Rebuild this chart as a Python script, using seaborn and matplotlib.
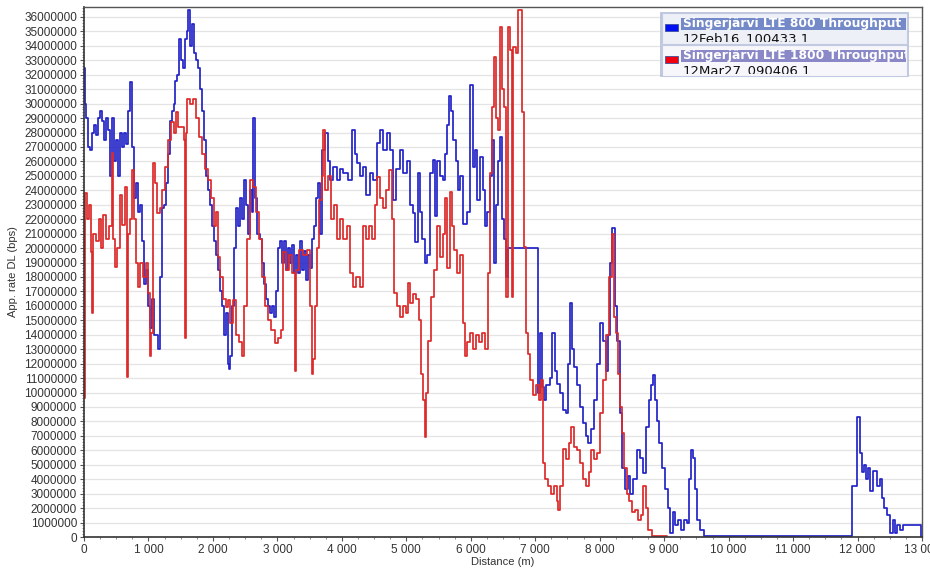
import numpy as np
import pandas as pd
import matplotlib
matplotlib.use("Agg")
import matplotlib.pyplot as plt
from matplotlib.patches import Rectangle
from matplotlib.ticker import MultipleLocator, FuncFormatter
from matplotlib.transforms import Bbox, TransformedBbox
import seaborn as sns

# Throughput samples along the drive route: (distance in m, rate in Mbit/s)
lte800_samples = [
    (0, 32.5), (16, 30.0), (31, 29.0), (62, 27.0), (93, 26.8), (124, 28.0), (155, 28.5),
    (186, 27.8), (217, 29.0), (248, 29.5), (280, 28.8), (311, 27.5), (342, 29.0), (373, 28.2),
    (404, 25.0), (435, 29.0), (466, 26.0), (497, 27.5), (528, 25.0), (559, 28.0), (590, 27.0),
    (621, 28.0), (652, 27.2), (683, 29.5), (714, 31.5), (745, 27.0), (776, 23.5), (807, 24.5),
    (838, 22.5), (869, 23.0), (900, 20.5), (931, 17.5), (962, 18.5), (993, 16.0), (1024, 14.5),
    (1055, 16.5), (1086, 14.0), (1149, 13.0), (1180, 18.0), (1211, 22.8), (1242, 23.0),
    (1273, 24.5), (1304, 26.5), (1335, 28.8), (1366, 29.5), (1397, 30.0), (1412, 31.6),
    (1443, 32.0), (1474, 34.5), (1505, 33.0), (1536, 32.5), (1568, 34.5), (1599, 35.0),
    (1614, 36.5), (1645, 34.0), (1676, 35.5), (1707, 33.5), (1738, 33.0), (1769, 32.5),
    (1800, 31.0), (1831, 29.5), (1862, 27.5), (1893, 25.0), (1925, 24.0), (1956, 23.0),
    (1987, 21.5), (2018, 20.5), (2049, 19.5), (2080, 18.5), (2111, 17.0), (2142, 16.0),
    (2173, 14.0), (2204, 15.5), (2235, 12.0), (2250, 11.6), (2266, 12.5), (2297, 16.0),
    (2328, 20.0), (2359, 22.8), (2390, 21.5), (2421, 23.5), (2452, 22.0), (2483, 24.7),
    (2514, 23.0), (2545, 21.0), (2576, 24.0), (2607, 22.5), (2623, 29.0), (2654, 23.5),
    (2685, 21.0), (2732, 20.6), (2763, 19.0), (2794, 17.5), (2825, 16.5), (2856, 16.0),
    (2887, 15.5), (2918, 16.0), (2949, 15.2), (2980, 17.0), (3011, 20.0), (3042, 20.5),
    (3073, 19.0), (3104, 20.5), (3135, 18.5), (3166, 20.0), (3197, 19.0), (3228, 20.2),
    (3259, 18.3), (3290, 19.5), (3321, 18.3), (3352, 20.5), (3383, 18.5), (3414, 19.8),
    (3445, 17.8), (3476, 19.5), (3507, 18.6), (3538, 20.6), (3569, 21.5), (3600, 23.5),
    (3631, 24.5), (3663, 21.0), (3694, 26.8), (3740, 28.0), (3787, 26.0), (3818, 24.7),
    (3864, 25.6), (3927, 24.7), (3973, 25.5), (4020, 25.2), (4097, 24.7), (4159, 28.2),
    (4206, 26.5), (4237, 25.9), (4284, 25.0), (4330, 25.6), (4377, 23.7), (4439, 25.2),
    (4485, 24.7), (4547, 27.3), (4594, 28.2), (4640, 26.8), (4703, 28.0), (4749, 26.8),
    (4796, 23.3), (4842, 25.5), (4904, 26.8), (4951, 25.2), (5013, 26.0), (5060, 23.0),
    (5106, 22.4), (5137, 20.4), (5184, 25.2), (5215, 22.5), (5246, 20.6), (5292, 19.0),
    (5323, 19.5), (5370, 25.2), (5416, 26.1), (5448, 22.2), (5479, 26.0), (5525, 25.0),
    (5572, 24.7), (5603, 26.5), (5634, 28.5), (5665, 30.5), (5696, 29.5), (5727, 27.5),
    (5773, 26.0), (5804, 24.0), (5835, 25.0), (5882, 21.7), (5944, 22.5), (5991, 31.3),
    (6037, 25.6), (6068, 26.8), (6099, 23.3), (6146, 26.3), (6192, 24.0), (6224, 21.5),
    (6255, 22.5), (6301, 25.0), (6332, 27.5), (6363, 19.0), (6394, 23.0), (6425, 26.0),
    (6456, 27.7), (6487, 22.0), (6518, 20.6), (6549, 18.0), (6580, 20.0), (7046, 10.0),
    (7077, 14.1), (7108, 10.4), (7139, 9.5), (7170, 10.5), (7232, 11.0), (7263, 14.1),
    (7310, 11.5), (7341, 10.6), (7388, 10.0), (7434, 8.8), (7481, 8.6), (7512, 12.0),
    (7543, 16.2), (7574, 13.0), (7605, 11.8), (7652, 10.5), (7698, 9.0), (7744, 7.9),
    (7791, 7.0), (7822, 6.5), (7869, 7.5), (7915, 9.5), (7962, 12.0), (8008, 14.8),
    (8055, 13.6), (8102, 11.5), (8133, 14.0), (8164, 19.0), (8195, 21.4), (8241, 16.0),
    (8272, 13.6), (8319, 8.6), (8350, 4.8), (8396, 3.3), (8443, 4.2), (8474, 3.0),
    (8520, 4.0), (8583, 6.0), (8629, 5.5), (8676, 4.4), (8722, 7.6), (8769, 9.5),
    (8800, 10.5), (8831, 11.2), (8862, 9.5), (8893, 8.0), (8924, 6.5), (8971, 4.8),
    (9017, 3.3), (9064, 2.0), (9095, 0.3), (9141, 1.7), (9172, 0.8), (9219, 1.2),
    (9265, 0.5), (9312, 1.2), (9358, 1.0), (9390, 4.0), (9421, 6.0), (9452, 5.5),
    (9483, 3.3), (9514, 1.2), (9560, 0.5), (9622, 0.1), (11920, 3.5), (11997, 8.3),
    (12044, 5.8), (12075, 4.5), (12106, 5.0), (12137, 4.0), (12168, 4.8), (12199, 3.2),
    (12246, 4.6), (12308, 3.5), (12354, 4.0), (12385, 2.7), (12416, 2.0), (12463, 1.5),
    (12509, 0.3), (12556, 1.2), (12587, 0.3), (12618, 0.8), (12664, 0.5), (12711, 0.8),
    (12773, 0.8), (12990, 0.0),
]

lte1800_samples = [
    (0, 9.6), (16, 23.8), (47, 22.0), (78, 23.0), (109, 19.7), (124, 15.5), (140, 21.0),
    (186, 20.5), (233, 22.0), (264, 20.0), (295, 22.3), (342, 20.6), (388, 21.5), (435, 26.6),
    (450, 20.6), (481, 18.7), (512, 20.0), (559, 23.7), (590, 21.6), (636, 24.2), (667, 11.1),
    (683, 21.0), (714, 22.0), (745, 25.4), (776, 22.0), (807, 19.0), (838, 17.3), (869, 19.0),
    (916, 18.0), (962, 19.0), (993, 16.9), (1024, 12.5), (1040, 14.1), (1071, 25.9),
    (1102, 24.5), (1133, 22.4), (1180, 22.8), (1211, 24.0), (1257, 25.6), (1304, 27.5),
    (1350, 28.7), (1397, 28.0), (1428, 29.4), (1459, 28.4), (1505, 28.4), (1552, 27.5),
    (1568, 13.8), (1583, 28.0), (1599, 30.3), (1645, 30.0), (1692, 30.3), (1738, 29.0),
    (1785, 27.7), (1831, 26.5), (1878, 25.5), (1925, 24.7), (1971, 23.5), (2018, 21.5),
    (2049, 22.5), (2080, 19.4), (2111, 18.0), (2157, 16.5), (2204, 15.9), (2235, 16.4),
    (2266, 14.8), (2312, 16.4), (2359, 14.0), (2406, 13.5), (2452, 12.5), (2483, 16.0),
    (2530, 20.6), (2576, 24.7), (2623, 24.2), (2669, 22.5), (2716, 20.6), (2763, 18.0),
    (2809, 16.0), (2856, 15.0), (2902, 14.3), (2964, 13.4), (3011, 13.8), (3057, 14.3),
    (3088, 19.7), (3135, 18.5), (3182, 19.5), (3228, 18.3), (3275, 11.5), (3290, 18.5),
    (3337, 19.9), (3399, 19.5), (3461, 19.9), (3508, 16.0), (3539, 11.3), (3554, 12.3),
    (3585, 16.0), (3616, 20.0), (3647, 23.3), (3694, 25.0), (3709, 28.2), (3740, 24.0),
    (3787, 25.0), (3833, 22.0), (3880, 23.0), (3927, 20.6), (3973, 22.0), (4020, 20.6),
    (4082, 21.5), (4128, 18.3), (4175, 17.3), (4221, 18.0), (4284, 17.3), (4330, 21.5),
    (4377, 20.6), (4423, 21.5), (4470, 20.6), (4516, 23.0), (4547, 24.9), (4594, 23.5),
    (4640, 22.8), (4687, 24.0), (4734, 25.4), (4780, 22.0), (4811, 16.9), (4858, 16.0),
    (4904, 15.2), (4951, 16.0), (4997, 15.5), (5029, 17.6), (5060, 16.2), (5106, 16.8),
    (5153, 16.5), (5199, 15.0), (5230, 11.3), (5261, 9.5), (5292, 6.9), (5308, 10.0),
    (5339, 13.6), (5385, 16.6), (5432, 18.5), (5479, 21.5), (5525, 19.4), (5572, 21.0),
    (5603, 23.5), (5634, 18.6), (5680, 23.9), (5711, 21.5), (5742, 19.9), (5789, 18.3),
    (5835, 19.5), (5882, 14.8), (5913, 12.5), (5944, 13.5), (5991, 14.1), (6037, 13.0),
    (6084, 14.0), (6130, 13.5), (6177, 14.1), (6224, 13.0), (6270, 18.3), (6301, 25.2),
    (6332, 29.8), (6363, 33.2), (6394, 29.0), (6425, 28.2), (6456, 35.3), (6487, 31.0),
    (6518, 29.8), (6549, 16.6), (6580, 35.3), (6612, 33.7), (6643, 16.6), (6658, 33.9),
    (6705, 33.5), (6736, 36.5), (6767, 36.5), (6798, 29.4), (6829, 20.1), (6860, 14.1),
    (6891, 12.7), (6922, 10.9), (6969, 9.8), (7015, 10.5), (7062, 9.5), (7093, 10.9),
    (7124, 5.1), (7155, 4.0), (7201, 3.5), (7248, 3.0), (7294, 3.5), (7341, 2.5),
    (7356, 1.9), (7388, 3.5), (7434, 6.1), (7481, 5.4), (7527, 6.5), (7558, 7.6),
    (7605, 6.2), (7652, 6.0), (7698, 5.1), (7744, 4.0), (7791, 3.5), (7838, 4.5),
    (7869, 6.0), (7915, 5.4), (7962, 5.8), (8008, 8.6), (8055, 10.9), (8102, 14.0),
    (8148, 18.0), (8195, 21.0), (8226, 15.2), (8257, 14.1), (8288, 11.3), (8319, 9.0),
    (8350, 7.2), (8381, 4.8), (8427, 3.0), (8458, 2.5), (8505, 1.7), (8552, 1.9),
    (8598, 1.2), (8645, 1.5), (8676, 3.5), (8722, 2.0), (8753, 0.5), (8815, 0.1),
    (9048, 0.1),
]

series_names = ["Singerjärvi LTE 800 Throughput", "Singerjärvi LTE 1800 Throughput"]
series_files = ["12Feb16_100433.1", "12Mar27_090406.1"]
series_colors = ["#2323C8", "#DC2A2A"]
swatch_colors = ["#0010F0", "#F00010"]


def to_frame(samples, name):
    dist, mbps = zip(*samples)
    return pd.DataFrame({"distance": dist, "rate": np.array(mbps) * 1e6, "series": name})


df = pd.concat([to_frame(lte800_samples, series_names[0]),
                to_frame(lte1800_samples, series_names[1])], ignore_index=True)

sns.set_style("white")
plt.rcParams["font.family"] = ["Liberation Sans", "DejaVu Sans"]

fig = plt.figure(figsize=(9.3, 5.68), dpi=100)
ax = fig.add_axes([84 / 930, 31 / 568, 838 / 930, 530 / 568])

sns.lineplot(data=df, x="distance", y="rate", hue="series",
             palette=dict(zip(series_names, series_colors)),
             estimator=None, sort=False, drawstyle="steps-post",
             linewidth=1.25, legend=False, ax=ax)

ax.set_xlim(0, 13000)
ax.set_ylim(0, 36.69e6)

ax.yaxis.set_major_locator(MultipleLocator(1e6))
ax.yaxis.set_minor_locator(MultipleLocator(2e5))
ax.xaxis.set_major_locator(MultipleLocator(1000))
ax.xaxis.set_minor_locator(MultipleLocator(250))
ax.yaxis.set_major_formatter(FuncFormatter(lambda v, p: f"{int(round(v))}"))
ax.xaxis.set_major_formatter(FuncFormatter(lambda v, p: f"{int(round(v)):,}".replace(",", " ")))

ax.grid(axis="y", which="major", color="#E4E4E4", linewidth=0.9)
ax.grid(axis="x", visible=False)
ax.set_axisbelow(True)

ax.tick_params(axis="both", which="major", direction="out", length=3, width=0.8,
               color="#555555", labelsize=8.5, labelcolor="#333333", pad=2,
               left=True, bottom=True)
ax.tick_params(axis="both", which="minor", direction="out", length=1.5, width=0.6,
               color="#777777", left=True, bottom=True)

for side in ["left", "bottom"]:
    ax.spines[side].set_color("#333333")
    ax.spines[side].set_linewidth(1.2)
for side in ["top", "right"]:
    ax.spines[side].set_color("#555555")
    ax.spines[side].set_linewidth(1.0)

ax.set_xlabel("Distance (m)", fontsize=8, color="#333333", labelpad=1)
ax.set_ylabel("App. rate DL (bps)", fontsize=8, color="#333333", labelpad=4)


# Legend panel in the upper right corner (pixel coordinates from the top-left)
def px(x, y):
    return x / 930, 1 - y / 568


def px_clip(x0, y0, x1, y1):
    return TransformedBbox(Bbox.from_extents(x0 / 930, 1 - y1 / 568, x1 / 930, 1 - y0 / 568),
                           fig.transFigure)


lx0, lx1 = 661, 908
rows = [(13, 44), (45, 76)]
header_bg = ["#7489C8", "#8B88C8"]
row_bg = ["#EEF0F8", "#F6F6FB"]
fig.add_artist(Rectangle(px(lx0, 76), (lx1 - lx0) / 930, 63 / 568,
                         transform=fig.transFigure, facecolor="white",
                         edgecolor="#B4BED8", linewidth=1.2, zorder=5))
for i, (y0, y1) in enumerate(rows):
    fig.add_artist(Rectangle(px(lx0 + 1, y1), (lx1 - lx0 - 2) / 930, (y1 - y0) / 568,
                             transform=fig.transFigure, facecolor=row_bg[i],
                             edgecolor="#C2CAE2", linewidth=0.8, zorder=6))
    fig.add_artist(Rectangle(px(681, y0 + 17), (906 - 681) / 930, 12 / 568,
                             transform=fig.transFigure, facecolor=header_bg[i],
                             edgecolor="none", zorder=7))
    fig.add_artist(Rectangle(px(665, y0 + 18), 13 / 930, 7 / 568,
                             transform=fig.transFigure, facecolor=swatch_colors[i],
                             edgecolor="#4050A0", linewidth=0.6, zorder=8))
    head = fig.text(*px(683, y0 + 11), series_names[i], fontsize=8.8, fontweight="bold",
                    family=["DejaVu Sans"], color="white", va="center", ha="left", zorder=8)
    head.set_clip_box(px_clip(681, y0, 906, y1))
    head.set_clip_on(True)
    sub = fig.text(*px(683, y0 + 19.5), series_files[i], fontsize=9.5,
                   family=["DejaVu Sans"], color="#111111", va="top", ha="left", zorder=8)
    sub.set_clip_box(px_clip(lx0, y0, lx1, y0 + 29))
    sub.set_clip_on(True)

fig.savefig("out.png", dpi=100)
